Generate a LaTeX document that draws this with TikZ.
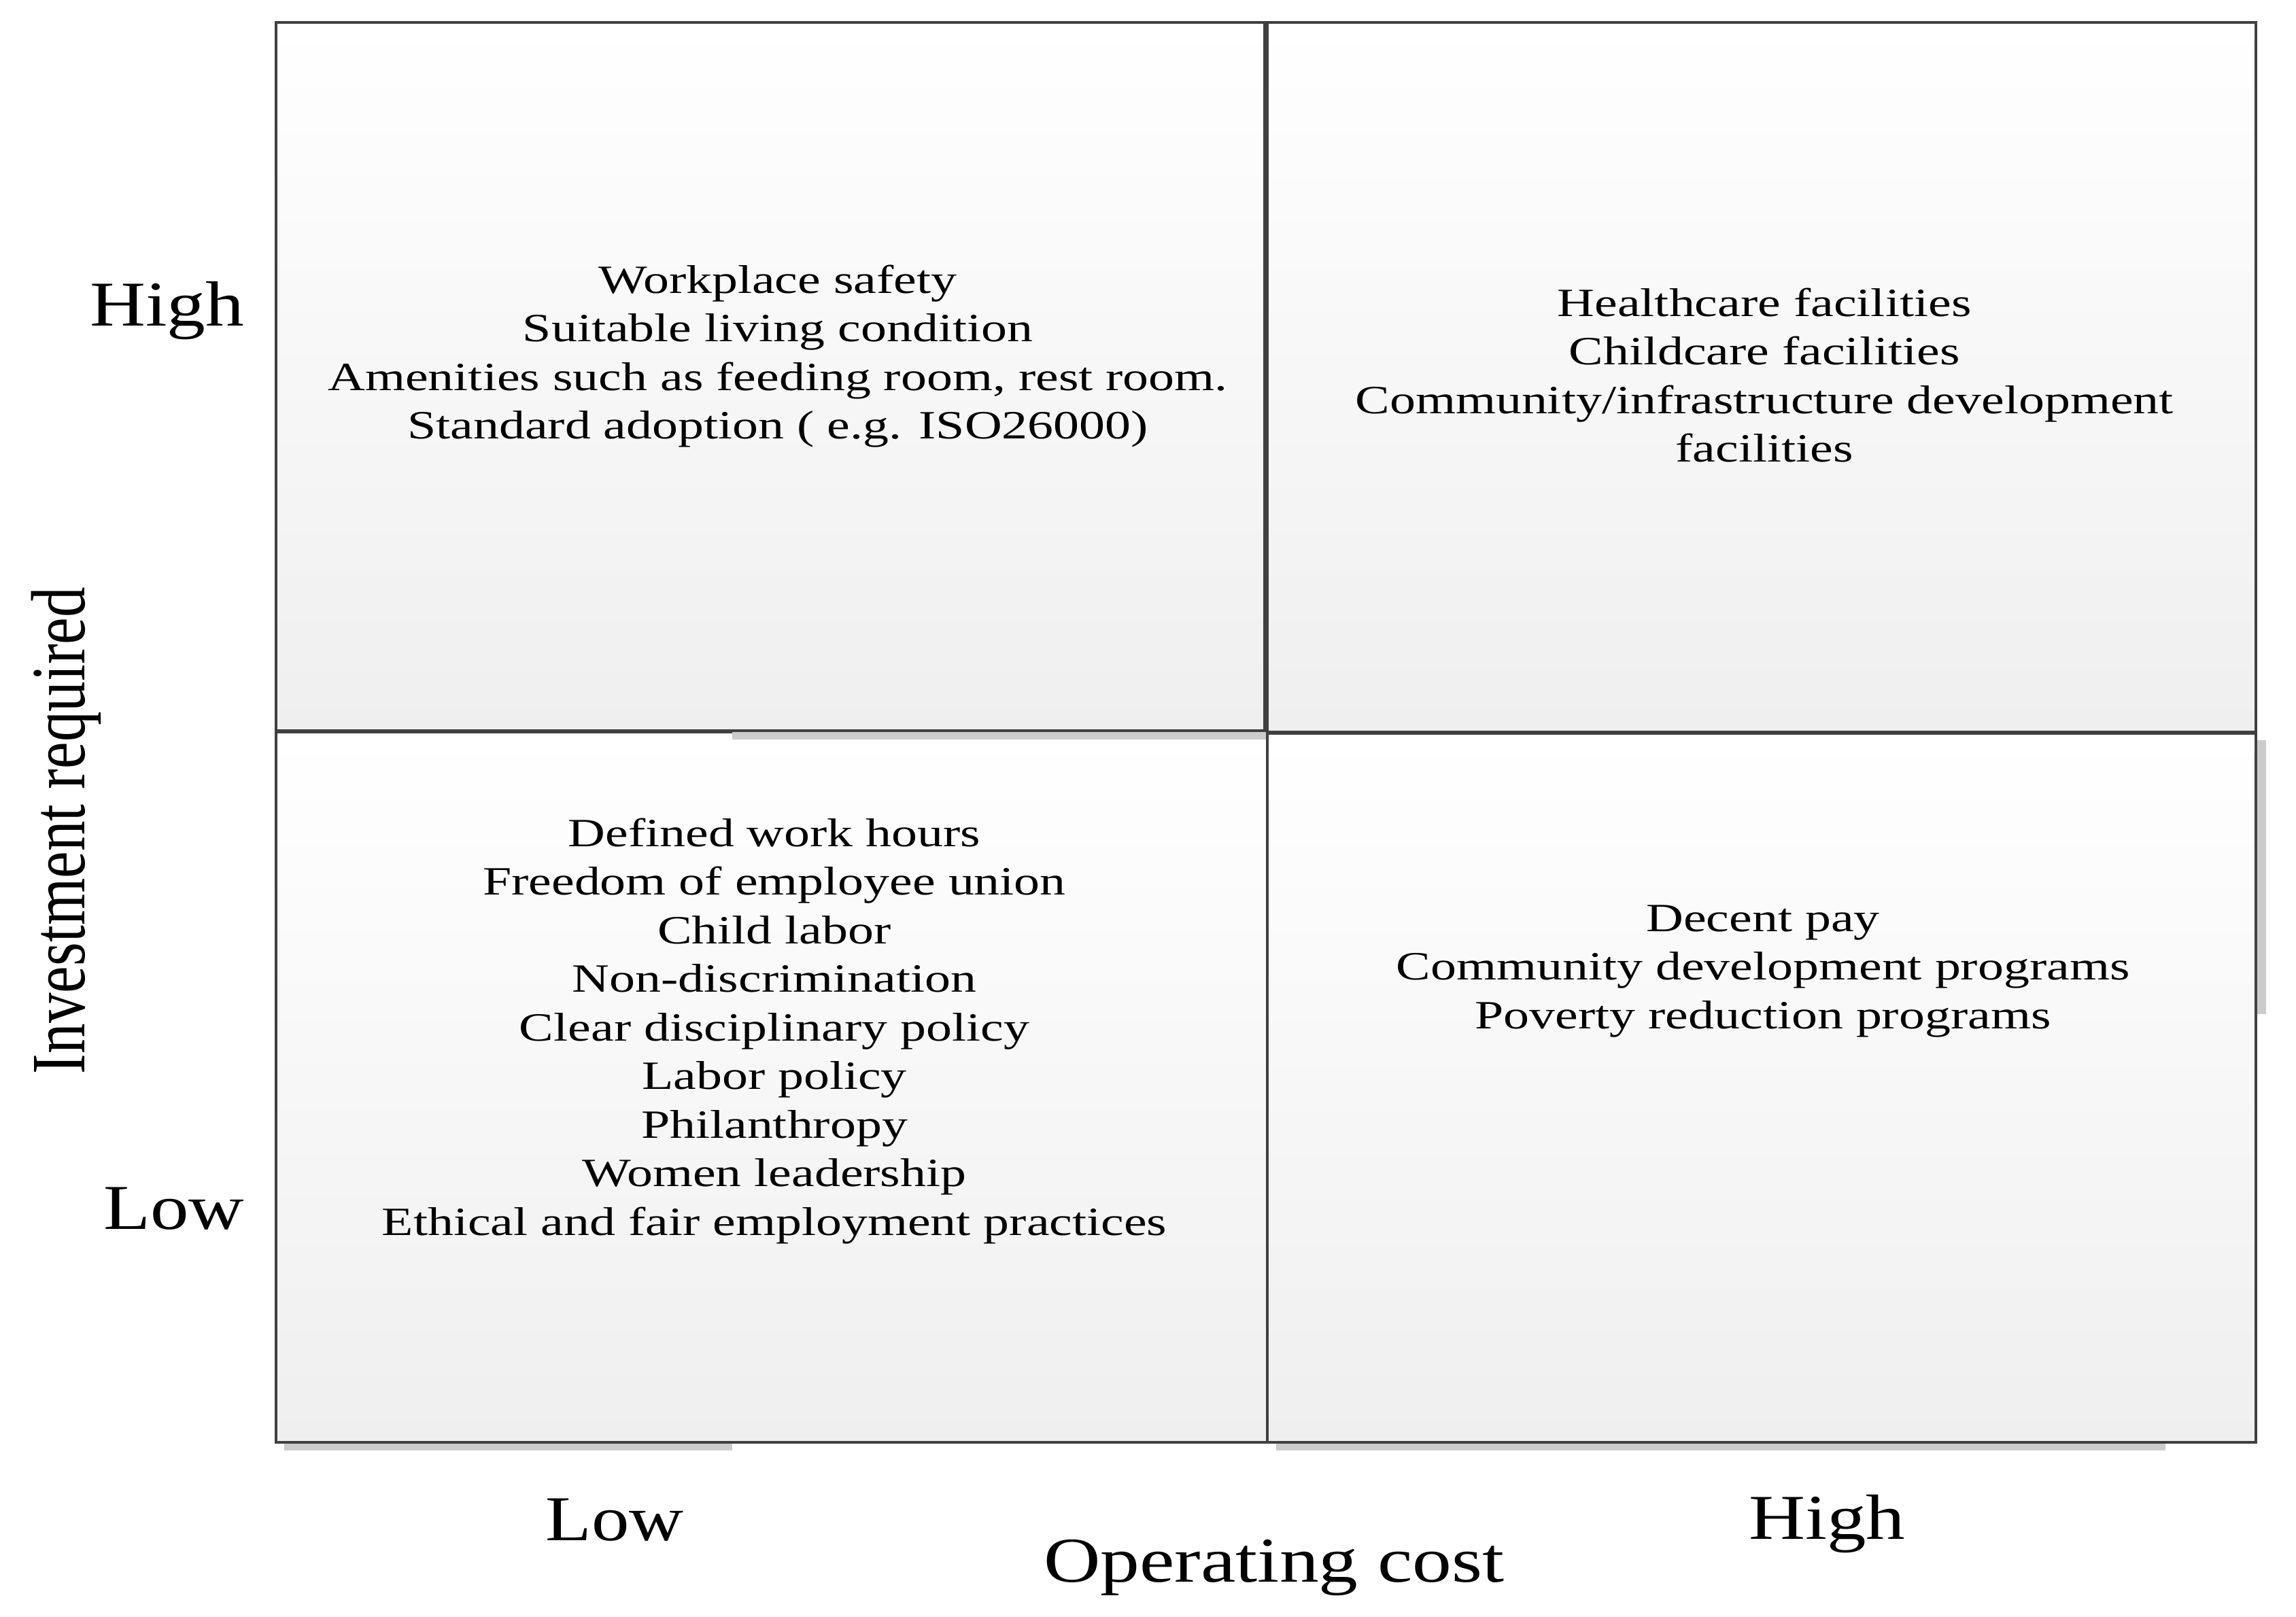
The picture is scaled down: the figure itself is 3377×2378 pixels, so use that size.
\documentclass[tikz,border=0pt]{standalone}
\usepackage{fontspec}
\setmainfont{Liberation Serif}
\usepackage{graphicx}
\definecolor{edgegray}{HTML}{404040}
\definecolor{shadegray}{HTML}{CCCCCC}
\definecolor{fillgray}{HTML}{EFEFEF}
\newcommand{\qtext}[1]{\scalebox{1.286}[1]{\begin{tabular}[t]{@{}c@{}}#1\end{tabular}}}
\begin{document}
\begin{tikzpicture}[x=0.1pt,y=-0.1pt,
  quad/.style={draw=edgegray,line width=0.35pt,top color=white,bottom color=fillgray},
  shadowbar/.style={fill=shadegray,draw=none},
  itemtext/.style={font=\fontsize{5.9pt}{7.15pt}\selectfont,inner sep=0,anchor=base},
  axislabel/.style={font=\fontsize{9.4pt}{11pt}\selectfont,inner sep=0,anchor=base}]
\useasboundingbox (0,0) rectangle (3377,2378);
% quadrants
\path[quad] (406,1077) rectangle (1864,2122);
\path[quad] (1864,1079) rectangle (3318,2122);
\path[quad] (1864,33) rectangle (3318,1077);
\path[quad] (406,33) rectangle (1860,1075);
% partial shadows
\fill[shadowbar] (1077,1077) rectangle (1862,1088);
\fill[shadowbar] (3320,1089) rectangle (3333,1492);
\fill[shadowbar] (418,2124) rectangle (1077,2134);
\fill[shadowbar] (1877,2124) rectangle (3185,2134);
% quadrant texts
\node[itemtext] (tl) at (1144,431) {\qtext{Workplace safety\\Suitable living condition\\Amenities such as feeding room, rest room.\\Standard adoption ( e.g. ISO26000)}};
\node[itemtext] (tr) at (2595,465) {\qtext{Healthcare facilities\\Childcare facilities\\Community/infrastructure development\\facilities}};
\node[itemtext] (bl) at (1139,1245) {\qtext{Defined work hours\\Freedom of employee union\\Child labor\\Non-discrimination\\Clear disciplinary policy\\Labor policy\\Philanthropy\\Women leadership\\Ethical and fair employment practices}};
\node[itemtext] (br) at (2593,1370) {\qtext{Decent pay\\Community development programs\\Poverty reduction programs}};
% axis labels
\node[axislabel] (yhigh) at (246,479) {\resizebox{22.7pt}{\height}{High}};
\node[axislabel] (ylow) at (256,1808) {\resizebox{20.7pt}{\height}{Low}};
\node[axislabel] (xlow) at (904,2266) {\resizebox{20.3pt}{\height}{Low}};
\node[axislabel] (xhigh) at (2687,2264) {\resizebox{23.0pt}{\height}{High}};
\node[axislabel] (xtitle) at (1874,2327) {\resizebox{67.7pt}{\height}{Operating cost}};
\node[axislabel,font=\fontsize{11.3pt}{13pt}\selectfont,rotate=90] (ytitle) at (125,1222) {\resizebox{71.6pt}{\height}{Investment required}};
\end{tikzpicture}
\end{document}
